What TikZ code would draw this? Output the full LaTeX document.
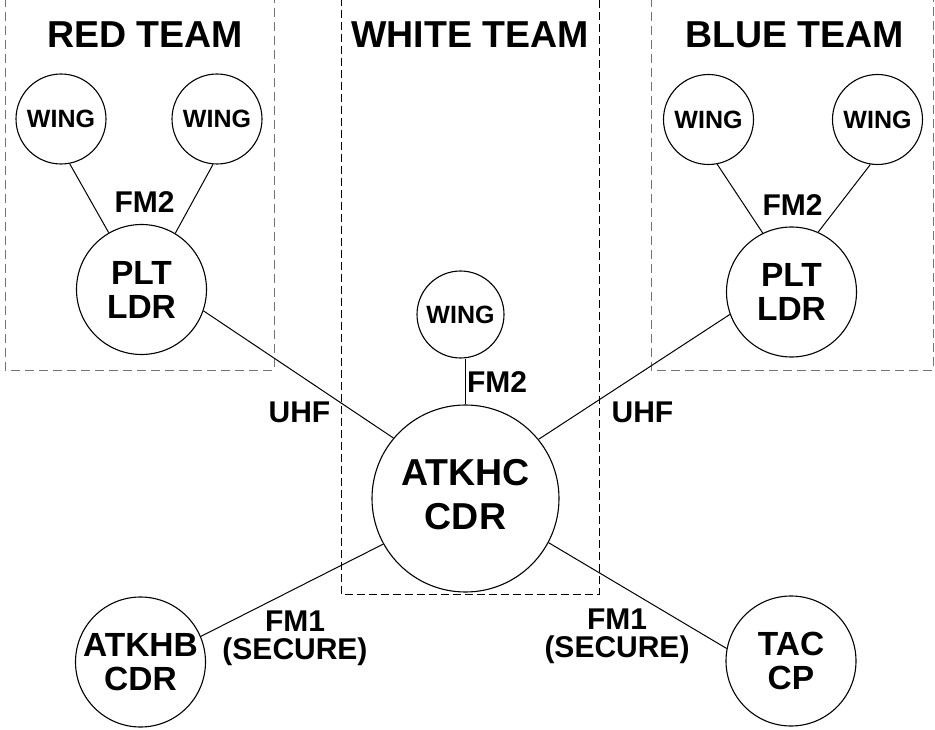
\documentclass[tikz,border=0pt]{standalone}
\usepackage{fontspec}
\setmainfont{Liberation Sans}
\begin{document}
\begin{tikzpicture}[x=1pt,y=-1pt,
  unit/.style={draw, circle, line width=1.1pt, inner sep=0pt, align=center},
  wingc/.style={unit, minimum size=90pt, font=\bfseries\fontsize{25}{26}\selectfont},
  bigc/.style={unit, minimum size=130pt, font=\bfseries\fontsize{33.5}{34}\selectfont},
  hugec/.style={unit, minimum size=187pt, font=\bfseries\fontsize{37.5}{43}\selectfont},
  lab/.style={inner sep=0pt, align=center, font=\bfseries\fontsize{30}{28}\selectfont},
  title/.style={inner sep=0pt, font=\bfseries\fontsize{37.5}{38}\selectfont},
  link/.style={line width=1pt},
  teambox/.style={draw=black!55, line width=0.9pt, dash pattern=on 9pt off 5pt},
  whitebox/.style={draw=black, line width=0.9pt, dash pattern=on 8pt off 4pt}]
\useasboundingbox (0,0) rectangle (935,730);
% team boxes
\draw[teambox] (5,-2) -- (5,370) -- (274,370) -- (274,-2);
\draw[teambox] (651,-2) -- (651,370) -- (933,370) -- (933,-2);
\draw[whitebox] (341,-2) -- (341,594) -- (599,594) -- (599,-2);
% titles
\node[title] (tred) at (145,35) {RED TEAM};
\node[title] (twhite) at (470,35) {WHITE TEAM};
\node[title] (tblue) at (794.5,35) {BLUE TEAM};
% units
\node[wingc] (rw1) at (61,119) {WING};
\node[wingc] (rw2) at (217,119) {WING};
\node[bigc] (rplt) at (141.5,289.5) {PLT\\LDR};
\node[wingc, minimum size=87pt] (ww) at (460.5,314.5) {WING};
\node[hugec] (atkhc) at (465.5,498.5) {\raisebox{-5pt}{\begin{tabular}{@{}c@{}}ATKHC\\[1pt]CDR\end{tabular}}};
\node[wingc] (bw1) at (708.5,119.5) {WING};
\node[wingc] (bw2) at (877.5,119.5) {WING};
\node[bigc] (bplt) at (791.5,292) {PLT\\LDR};
\node[bigc] (atkhb) at (140.5,662) {ATKHB\\CDR};
\node[bigc] (tac) at (791,661) {TAC\\CP};
% connectors
\draw[link] (rw1.-79) -- (rplt.120.7);
\draw[link] (rw2.-95) -- (rplt.59.3);
\draw[link] (bw1.-79) -- (bplt.116);
\draw[link] (bw2.-99.6) -- (bplt.66.2);
\draw[link] (rplt.-19.5) -- (atkhc.140.2);
\draw[link] (bplt.-160.9) -- (atkhc.39.8);
\draw[link] (atkhc.north) -- (atkhc.north |- ww.south);
\draw[link] (atkhb.23.7) -- (atkhc.-151.7);
\draw[link] (atkhc.-28.3) -- (tac.169.7);
% labels
\node[lab] (fm2r) at (144.5,202) {FM2};
\node[lab] (fm2b) at (792.5,205) {FM2};
\node[lab] (fm2w) at (497,382) {FM2};
\node[lab] (uhfl) at (299.5,412.5) {UHF};
\node[lab] (uhfr) at (642.5,412.5) {UHF};
\node[lab] (fm1l) at (295,638) {FM1\\(SECURE)};
\node[lab] (fm1r) at (617,636) {FM1\\(SECURE)};
\end{tikzpicture}
\end{document}
